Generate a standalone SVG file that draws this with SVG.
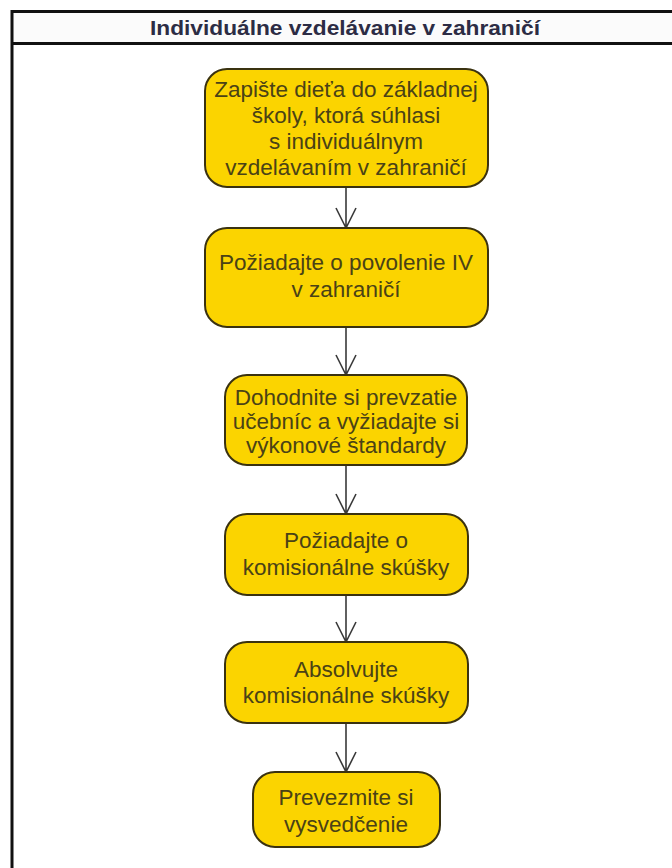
<svg xmlns="http://www.w3.org/2000/svg" width="672" height="868" viewBox="0 0 672 868">
<style>
.box{fill:#fbd400;stroke:#3a3210;stroke-width:2}
.t{font-family:"Liberation Sans",Arial,sans-serif;font-size:22.5px;fill:#4a4216;text-anchor:middle}
.title{font-family:"Liberation Sans",Arial,sans-serif;font-size:21px;font-weight:bold;fill:#2c2c44;text-anchor:middle}
.c{stroke:#3a3a3a;stroke-width:1.6;fill:none}
</style>
<rect x="0" y="0" width="672" height="868" fill="#ffffff"/>
<g id="frame">
<rect x="12" y="12" width="680" height="32" fill="#fbfbfb"/>
<line x1="12" y1="11.5" x2="672" y2="11.5" stroke="#111" stroke-width="3"/>
<line x1="12" y1="43.5" x2="672" y2="43.5" stroke="#111" stroke-width="3"/>
<line x1="12" y1="10" x2="12" y2="868" stroke="#111" stroke-width="3"/>
<text class="title" x="345" y="35" textLength="390" lengthAdjust="spacingAndGlyphs">Individuálne vzdelávanie v zahraničí</text>
</g>
<g id="connectors">
<path class="c" d="M346 187V228M336 208L346 228L356 208"/>
<path class="c" d="M346 327V375M336 355L346 375L356 355"/>
<path class="c" d="M346 465V514M336 494L346 514L356 494"/>
<path class="c" d="M346 595V642M336 622L346 642L356 622"/>
<path class="c" d="M346 723V772M336 752L346 772L356 752"/>
</g>
<g id="n1">
<rect class="box" x="205" y="69" width="283" height="118" rx="22"/>
<text class="t" x="346" y="97">Zapište dieťa do základnej</text>
<text class="t" x="346" y="123">školy, ktorá súhlasi</text>
<text class="t" x="346" y="149">s individuálnym</text>
<text class="t" x="346" y="175">vzdelávaním v zahraničí</text>
</g>
<g id="n2">
<rect class="box" x="205" y="228" width="283" height="99" rx="22"/>
<text class="t" x="346" y="270">Požiadajte o povolenie IV</text>
<text class="t" x="346" y="297">v zahraničí</text>
</g>
<g id="n3">
<rect class="box" x="225" y="375" width="242" height="90" rx="22"/>
<text class="t" x="346" y="405">Dohodnite si prevzatie</text>
<text class="t" x="346" y="429">učebníc a vyžiadajte si</text>
<text class="t" x="346" y="453">výkonové štandardy</text>
</g>
<g id="n4">
<rect class="box" x="225" y="514" width="243" height="81" rx="22"/>
<text class="t" x="346" y="548">Požiadajte o</text>
<text class="t" x="346" y="575">komisionálne skúšky</text>
</g>
<g id="n5">
<rect class="box" x="225" y="642" width="243" height="81" rx="22"/>
<text class="t" x="346" y="677">Absolvujte</text>
<text class="t" x="346" y="703">komisionálne skúšky</text>
</g>
<g id="n6">
<rect class="box" x="253" y="772" width="187" height="75" rx="22"/>
<text class="t" x="346" y="805">Prevezmite si</text>
<text class="t" x="346" y="832">vysvedčenie</text>
</g>
</svg>
